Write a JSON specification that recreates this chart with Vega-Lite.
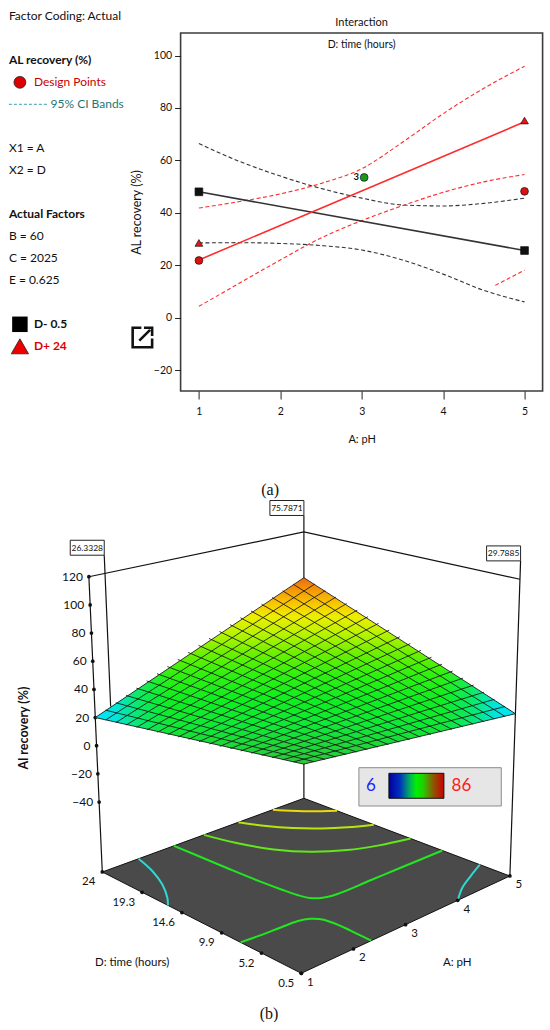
{
  "$schema": "https://vega.github.io/schema/vega-lite/v6.json",
  "background": "white",
  "padding": {"left": 5.6, "top": 9, "right": 0, "bottom": 0},
  "bounds": "flush",
  "spacing": 110,
  "config": {
    "font": "Lato, sans-serif",
    "view": {"stroke": null}
  },
  "datasets": {
    "key": [
      {"kind": "text", "sty": "plain", "line": 0, "col": 0, "label": "Factor Coding: Actual"},
      {"kind": "bold", "sty": "bold", "line": 2, "col": 0, "label": "AL recovery (%)"},
      {"kind": "text", "sty": "red", "line": 3, "col": 1, "label": "Design Points"},
      {"kind": "text", "sty": "teal", "line": 4, "col": 1.668, "label": "95% CI Bands"},
      {"kind": "text", "sty": "plain", "line": 6, "col": 0, "label": "X1 = A"},
      {"kind": "text", "sty": "plain", "line": 7, "col": 0, "label": "X2 = D"},
      {"kind": "bold", "sty": "bold", "line": 9, "col": 0, "label": "Actual Factors"},
      {"kind": "text", "sty": "plain", "line": 10, "col": 0, "label": "B = 60"},
      {"kind": "text", "sty": "plain", "line": 11, "col": 0, "label": "C = 2025"},
      {"kind": "text", "sty": "plain", "line": 12, "col": 0, "label": "E = 0.625"},
      {"kind": "bold", "sty": "bold", "line": 14, "col": 1, "label": "D- 0.5"},
      {"kind": "bold", "sty": "boldr", "line": 15, "col": 1, "label": "D+ 24"},
      {"kind": "sym", "ser": "design", "line": 3, "col": 0.44},
      {"kind": "sym", "ser": "D-", "line": 14, "col": 0.44},
      {"kind": "sym", "ser": "D+", "line": 15, "col": 0.44},
      {"kind": "dash", "line": 4, "col": 0},
      {"kind": "dash", "line": 4, "col": 1.588},
      {"kind": "icon", "line": 14.6, "col": 5.34}
    ],
    "ckey": [
      {"lo": 6, "hi": 86, "mid": 46}
    ],
    "fit": [
      {"curve": "Dm_fit", "grp": "D-", "kind": "fit", "A": 1, "rec": 48.0},
      {"curve": "Dm_fit", "grp": "D-", "kind": "fit", "A": 5, "rec": 25.6},
      {"curve": "Dp_fit", "grp": "D+", "kind": "fit", "A": 1, "rec": 22.0},
      {"curve": "Dp_fit", "grp": "D+", "kind": "fit", "A": 5, "rec": 74.7},
      {"curve": "Dm_hi", "grp": "D-", "kind": "ci", "A": 1, "rec": 66.4},
      {"curve": "Dm_hi", "grp": "D-", "kind": "ci", "A": 1.5, "rec": 59.6},
      {"curve": "Dm_hi", "grp": "D-", "kind": "ci", "A": 2, "rec": 54.0},
      {"curve": "Dm_hi", "grp": "D-", "kind": "ci", "A": 2.5, "rec": 49.3},
      {"curve": "Dm_hi", "grp": "D-", "kind": "ci", "A": 3, "rec": 45.6},
      {"curve": "Dm_hi", "grp": "D-", "kind": "ci", "A": 3.5, "rec": 43.0},
      {"curve": "Dm_hi", "grp": "D-", "kind": "ci", "A": 4, "rec": 42.6},
      {"curve": "Dm_hi", "grp": "D-", "kind": "ci", "A": 4.5, "rec": 43.6},
      {"curve": "Dm_hi", "grp": "D-", "kind": "ci", "A": 5, "rec": 45.6},
      {"curve": "Dm_lo", "grp": "D-", "kind": "ci", "A": 1, "rec": 28.5},
      {"curve": "Dm_lo", "grp": "D-", "kind": "ci", "A": 1.5, "rec": 28.6},
      {"curve": "Dm_lo", "grp": "D-", "kind": "ci", "A": 2, "rec": 28.3},
      {"curve": "Dm_lo", "grp": "D-", "kind": "ci", "A": 2.5, "rec": 27.5},
      {"curve": "Dm_lo", "grp": "D-", "kind": "ci", "A": 3, "rec": 25.8},
      {"curve": "Dm_lo", "grp": "D-", "kind": "ci", "A": 3.5, "rec": 22.0},
      {"curve": "Dm_lo", "grp": "D-", "kind": "ci", "A": 4, "rec": 16.6},
      {"curve": "Dm_lo", "grp": "D-", "kind": "ci", "A": 4.5, "rec": 10.4},
      {"curve": "Dm_lo", "grp": "D-", "kind": "ci", "A": 5, "rec": 6.0},
      {"curve": "Dp_hi", "grp": "D+", "kind": "ci", "A": 1, "rec": 41.8},
      {"curve": "Dp_hi", "grp": "D+", "kind": "ci", "A": 1.5, "rec": 44.3},
      {"curve": "Dp_hi", "grp": "D+", "kind": "ci", "A": 2, "rec": 47.2},
      {"curve": "Dp_hi", "grp": "D+", "kind": "ci", "A": 2.5, "rec": 51.2},
      {"curve": "Dp_hi", "grp": "D+", "kind": "ci", "A": 3, "rec": 56.8},
      {"curve": "Dp_hi", "grp": "D+", "kind": "ci", "A": 3.5, "rec": 66.9},
      {"curve": "Dp_hi", "grp": "D+", "kind": "ci", "A": 4, "rec": 77.8},
      {"curve": "Dp_hi", "grp": "D+", "kind": "ci", "A": 4.5, "rec": 87.5},
      {"curve": "Dp_hi", "grp": "D+", "kind": "ci", "A": 5, "rec": 95.9},
      {"curve": "Dp_lo", "grp": "D+", "kind": "ci", "A": 1, "rec": 4.3},
      {"curve": "Dp_lo", "grp": "D+", "kind": "ci", "A": 1.5, "rec": 13.2},
      {"curve": "Dp_lo", "grp": "D+", "kind": "ci", "A": 2, "rec": 22.0},
      {"curve": "Dp_lo", "grp": "D+", "kind": "ci", "A": 2.5, "rec": 30.4},
      {"curve": "Dp_lo", "grp": "D+", "kind": "ci", "A": 3, "rec": 37.0},
      {"curve": "Dp_lo", "grp": "D+", "kind": "ci", "A": 3.5, "rec": 42.7},
      {"curve": "Dp_lo", "grp": "D+", "kind": "ci", "A": 4, "rec": 47.8},
      {"curve": "Dp_lo", "grp": "D+", "kind": "ci", "A": 4.5, "rec": 51.8},
      {"curve": "Dp_lo", "grp": "D+", "kind": "ci", "A": 5, "rec": 54.6},
      {"curve": "Dp_x", "grp": "D+", "kind": "ci", "A": 4.64, "rec": 12.3},
      {"curve": "Dp_x", "grp": "D+", "kind": "ci", "A": 5, "rec": 18.1}
    ],
    "pts": [
      {"A": 1, "rec": 48.0, "ser": "D-"},
      {"A": 5, "rec": 25.6, "ser": "D-"},
      {"A": 1, "rec": 28.5, "ser": "D+"},
      {"A": 5, "rec": 75.2, "ser": "D+"},
      {"A": 1, "rec": 21.8, "ser": "design"},
      {"A": 5, "rec": 48.2, "ser": "design"},
      {"A": 3.03, "rec": 53.5, "ser": "center", "n": "3"}
    ],
    "scene": [
      {"kind": "floor", "o": 0, "A": 1, "D": 0.5, "z": -89.7},
      {"kind": "floor", "o": 1, "A": 1, "D": 24, "z": -89.7},
      {"kind": "floor", "o": 2, "A": 5, "D": 24, "z": -89.7},
      {"kind": "floor", "o": 3, "A": 5, "D": 0.5, "z": -89.7},
      {"kind": "floor", "o": 4, "A": 1, "D": 0.5, "z": -89.7},
      {"kind": "surf", "o": 0, "A": 1, "D": 0.5, "z": 45},
      {"kind": "surf", "o": 1, "A": 1, "D": 24, "z": 20},
      {"kind": "surf", "o": 2, "A": 5, "D": 24, "z": 84},
      {"kind": "surf", "o": 3, "A": 5, "D": 0.5, "z": 25},
      {"kind": "surf", "o": 4, "A": 1, "D": 0.5, "z": 45},
      {"kind": "frame", "g": "zax", "o": 0, "A": 1, "D": 24, "z": -89.7},
      {"kind": "frame", "g": "zax", "o": 1, "A": 1, "D": 24, "z": 120},
      {"kind": "frame", "g": "top", "o": 0, "A": 1, "D": 24, "z": 120},
      {"kind": "frame", "g": "top", "o": 1, "A": 5, "D": 24, "z": 120},
      {"kind": "frame", "g": "top", "o": 2, "A": 5, "D": 0.5, "z": 120},
      {"kind": "frame", "g": "vB", "o": 0, "A": 5, "D": 24, "z": -89.7},
      {"kind": "frame", "g": "vB", "o": 1, "A": 5, "D": 24, "z": 133},
      {"kind": "frame", "g": "vR", "o": 0, "A": 5, "D": 0.5, "z": -89.7},
      {"kind": "frame", "g": "vR", "o": 1, "A": 5, "D": 0.5, "z": 133},
      {"kind": "frame", "g": "vL", "o": 0, "A": 1.3, "D": 24, "z": 24.8},
      {"kind": "frame", "g": "vL", "o": 1, "A": 1.3, "D": 24, "z": 133},
      {"kind": "zt", "A": 1, "D": 24, "z": 120, "lab": "120"},
      {"kind": "zt", "A": 1, "D": 24, "z": 100, "lab": "100"},
      {"kind": "zt", "A": 1, "D": 24, "z": 80, "lab": "80"},
      {"kind": "zt", "A": 1, "D": 24, "z": 60, "lab": "60"},
      {"kind": "zt", "A": 1, "D": 24, "z": 40, "lab": "40"},
      {"kind": "zt", "A": 1, "D": 24, "z": 20, "lab": "20"},
      {"kind": "zt", "A": 1, "D": 24, "z": 0, "lab": "0"},
      {"kind": "zt", "A": 1, "D": 24, "z": -20, "lab": "−20"},
      {"kind": "zt", "A": 1, "D": 24, "z": -40, "lab": "−40"},
      {"kind": "dt", "A": 1, "D": 24, "z": -89.7, "lab": "24"},
      {"kind": "dt", "A": 1, "D": 19.3, "z": -89.7, "lab": "19.3"},
      {"kind": "dt", "A": 1, "D": 14.6, "z": -89.7, "lab": "14.6"},
      {"kind": "dt", "A": 1, "D": 9.9, "z": -89.7, "lab": "9.9"},
      {"kind": "dt", "A": 1, "D": 5.2, "z": -89.7, "lab": "5.2"},
      {"kind": "dt", "A": 1, "D": 0.5, "z": -89.7, "lab": "0.5"},
      {"kind": "at", "A": 1, "D": 0.5, "z": -89.7, "lab": "1"},
      {"kind": "at", "A": 2, "D": 0.5, "z": -89.7, "lab": "2"},
      {"kind": "at", "A": 3, "D": 0.5, "z": -89.7, "lab": "3"},
      {"kind": "at", "A": 4, "D": 0.5, "z": -89.7, "lab": "4"},
      {"kind": "at", "A": 5, "D": 0.5, "z": -89.7, "lab": "5"},
      {"kind": "ttl", "A": -0.59, "D": 10.83, "z": -89.7, "lab": "D: time (hours)"},
      {"kind": "ttl", "A": 2.68, "D": -7.45, "z": -89.7, "lab": "A: pH"},
      {"kind": "zttl", "A": -0.35, "D": 24, "z": 26.4, "lab": "Al recovery (%)"},
      {"kind": "box", "A": 5, "D": 24, "z": 133, "lab": "75.7871"},
      {"kind": "box", "A": 1.3, "D": 24, "z": 133, "lab": "26.3328"},
      {"kind": "box", "A": 5, "D": 0.5, "z": 133, "lab": "29.7885"},
      {"kind": "cont", "g": "c75", "lev": "75", "o": 0, "A": 4.384, "D": 24, "z": -89.7},
      {"kind": "cont", "g": "c75", "lev": "75", "o": 1, "A": 4.48, "D": 23.27, "z": -89.7},
      {"kind": "cont", "g": "c75", "lev": "75", "o": 2, "A": 4.6, "D": 22.45, "z": -89.7},
      {"kind": "cont", "g": "c75", "lev": "75", "o": 3, "A": 4.72, "D": 21.7, "z": -89.7},
      {"kind": "cont", "g": "c75", "lev": "75", "o": 4, "A": 4.84, "D": 21.04, "z": -89.7},
      {"kind": "cont", "g": "c75", "lev": "75", "o": 5, "A": 5, "D": 20.22, "z": -89.7},
      {"kind": "cont", "g": "c65", "lev": "65", "o": 0, "A": 3.7, "D": 24, "z": -89.7},
      {"kind": "cont", "g": "c65", "lev": "65", "o": 1, "A": 3.88, "D": 22.12, "z": -89.7},
      {"kind": "cont", "g": "c65", "lev": "65", "o": 2, "A": 4.12, "D": 20.17, "z": -89.7},
      {"kind": "cont", "g": "c65", "lev": "65", "o": 3, "A": 4.4, "D": 18.48, "z": -89.7},
      {"kind": "cont", "g": "c65", "lev": "65", "o": 4, "A": 4.68, "D": 17.19, "z": -89.7},
      {"kind": "cont", "g": "c65", "lev": "65", "o": 5, "A": 5, "D": 16.03, "z": -89.7},
      {"kind": "cont", "g": "c55", "lev": "55", "o": 0, "A": 3.016, "D": 24, "z": -89.7},
      {"kind": "cont", "g": "c55", "lev": "55", "o": 1, "A": 3.16, "D": 21.2, "z": -89.7},
      {"kind": "cont", "g": "c55", "lev": "55", "o": 2, "A": 3.4, "D": 18.17, "z": -89.7},
      {"kind": "cont", "g": "c55", "lev": "55", "o": 3, "A": 3.72, "D": 15.75, "z": -89.7},
      {"kind": "cont", "g": "c55", "lev": "55", "o": 4, "A": 4.12, "D": 13.92, "z": -89.7},
      {"kind": "cont", "g": "c55", "lev": "55", "o": 5, "A": 4.52, "D": 12.77, "z": -89.7},
      {"kind": "cont", "g": "c55", "lev": "55", "o": 6, "A": 5, "D": 11.83, "z": -89.7},
      {"kind": "cont", "g": "c45u", "lev": "45", "o": 0, "A": 2.42, "D": 24, "z": -89.7},
      {"kind": "cont", "g": "c45u", "lev": "45", "o": 1, "A": 2.448, "D": 21.04, "z": -89.7},
      {"kind": "cont", "g": "c45u", "lev": "45", "o": 2, "A": 2.476, "D": 17.73, "z": -89.7},
      {"kind": "cont", "g": "c45u", "lev": "45", "o": 3, "A": 2.512, "D": 14.46, "z": -89.7},
      {"kind": "cont", "g": "c45u", "lev": "45", "o": 4, "A": 2.552, "D": 12.25, "z": -89.7},
      {"kind": "cont", "g": "c45u", "lev": "45", "o": 5, "A": 2.592, "D": 10.61, "z": -89.7},
      {"kind": "cont", "g": "c45u", "lev": "45", "o": 6, "A": 2.648, "D": 9.55, "z": -89.7},
      {"kind": "cont", "g": "c45u", "lev": "45", "o": 7, "A": 2.76, "D": 8.89, "z": -89.7},
      {"kind": "cont", "g": "c45u", "lev": "45", "o": 8, "A": 3.0, "D": 8.49, "z": -89.7},
      {"kind": "cont", "g": "c45u", "lev": "45", "o": 9, "A": 3.64, "D": 8.4, "z": -89.7},
      {"kind": "cont", "g": "c45u", "lev": "45", "o": 10, "A": 4.2, "D": 8.33, "z": -89.7},
      {"kind": "cont", "g": "c45u", "lev": "45", "o": 11, "A": 5, "D": 8.21, "z": -89.7},
      {"kind": "cont", "g": "c45l", "lev": "45", "o": 0, "A": 1, "D": 7.67, "z": -89.7},
      {"kind": "cont", "g": "c45l", "lev": "45", "o": 1, "A": 1.348, "D": 7.48, "z": -89.7},
      {"kind": "cont", "g": "c45l", "lev": "45", "o": 2, "A": 1.712, "D": 7.34, "z": -89.7},
      {"kind": "cont", "g": "c45l", "lev": "45", "o": 3, "A": 2.02, "D": 7.2, "z": -89.7},
      {"kind": "cont", "g": "c45l", "lev": "45", "o": 4, "A": 2.2, "D": 6.8, "z": -89.7},
      {"kind": "cont", "g": "c45l", "lev": "45", "o": 5, "A": 2.312, "D": 6.0, "z": -89.7},
      {"kind": "cont", "g": "c45l", "lev": "45", "o": 6, "A": 2.352, "D": 4.14, "z": -89.7},
      {"kind": "cont", "g": "c45l", "lev": "45", "o": 7, "A": 2.348, "D": 2.38, "z": -89.7},
      {"kind": "cont", "g": "c45l", "lev": "45", "o": 8, "A": 2.34, "D": 0.5, "z": -89.7},
      {"kind": "cont", "g": "c35l", "lev": "35", "o": 0, "A": 1.72, "D": 24, "z": -89.7},
      {"kind": "cont", "g": "c35l", "lev": "35", "o": 1, "A": 1.592, "D": 21.63, "z": -89.7},
      {"kind": "cont", "g": "c35l", "lev": "35", "o": 2, "A": 1.4, "D": 19.32, "z": -89.7},
      {"kind": "cont", "g": "c35l", "lev": "35", "o": 3, "A": 1.16, "D": 17.28, "z": -89.7},
      {"kind": "cont", "g": "c35l", "lev": "35", "o": 4, "A": 1, "D": 16.25, "z": -89.7},
      {"kind": "cont", "g": "c35r", "lev": "35", "o": 0, "A": 5, "D": 3.93, "z": -89.7},
      {"kind": "cont", "g": "c35r", "lev": "35", "o": 1, "A": 4.656, "D": 2.94, "z": -89.7},
      {"kind": "cont", "g": "c35r", "lev": "35", "o": 2, "A": 4.32, "D": 1.89, "z": -89.7},
      {"kind": "cont", "g": "c35r", "lev": "35", "o": 3, "A": 4, "D": 0.5, "z": -89.7},
      {"kind": "grid", "g": "d0", "A": 1, "D": 0.5, "z": 45}, {"kind": "grid", "g": "d0", "A": 5, "D": 0.5, "z": 25},
      {"kind": "grid", "g": "d1", "A": 1, "D": 1.675, "z": 43.75}, {"kind": "grid", "g": "d1", "A": 5, "D": 1.675, "z": 27.95},
      {"kind": "grid", "g": "d2", "A": 1, "D": 2.85, "z": 42.5}, {"kind": "grid", "g": "d2", "A": 5, "D": 2.85, "z": 30.9},
      {"kind": "grid", "g": "d3", "A": 1, "D": 4.025, "z": 41.25}, {"kind": "grid", "g": "d3", "A": 5, "D": 4.025, "z": 33.85},
      {"kind": "grid", "g": "d4", "A": 1, "D": 5.2, "z": 40}, {"kind": "grid", "g": "d4", "A": 5, "D": 5.2, "z": 36.8},
      {"kind": "grid", "g": "d5", "A": 1, "D": 6.375, "z": 38.75}, {"kind": "grid", "g": "d5", "A": 5, "D": 6.375, "z": 39.75},
      {"kind": "grid", "g": "d6", "A": 1, "D": 7.55, "z": 37.5}, {"kind": "grid", "g": "d6", "A": 5, "D": 7.55, "z": 42.7},
      {"kind": "grid", "g": "d7", "A": 1, "D": 8.725, "z": 36.25}, {"kind": "grid", "g": "d7", "A": 5, "D": 8.725, "z": 45.65},
      {"kind": "grid", "g": "d8", "A": 1, "D": 9.9, "z": 35}, {"kind": "grid", "g": "d8", "A": 5, "D": 9.9, "z": 48.6},
      {"kind": "grid", "g": "d9", "A": 1, "D": 11.075, "z": 33.75}, {"kind": "grid", "g": "d9", "A": 5, "D": 11.075, "z": 51.55},
      {"kind": "grid", "g": "d10", "A": 1, "D": 12.25, "z": 32.5}, {"kind": "grid", "g": "d10", "A": 5, "D": 12.25, "z": 54.5},
      {"kind": "grid", "g": "d11", "A": 1, "D": 13.425, "z": 31.25}, {"kind": "grid", "g": "d11", "A": 5, "D": 13.425, "z": 57.45},
      {"kind": "grid", "g": "d12", "A": 1, "D": 14.6, "z": 30}, {"kind": "grid", "g": "d12", "A": 5, "D": 14.6, "z": 60.4},
      {"kind": "grid", "g": "d13", "A": 1, "D": 15.775, "z": 28.75}, {"kind": "grid", "g": "d13", "A": 5, "D": 15.775, "z": 63.35},
      {"kind": "grid", "g": "d14", "A": 1, "D": 16.95, "z": 27.5}, {"kind": "grid", "g": "d14", "A": 5, "D": 16.95, "z": 66.3},
      {"kind": "grid", "g": "d15", "A": 1, "D": 18.125, "z": 26.25}, {"kind": "grid", "g": "d15", "A": 5, "D": 18.125, "z": 69.25},
      {"kind": "grid", "g": "d16", "A": 1, "D": 19.3, "z": 25}, {"kind": "grid", "g": "d16", "A": 5, "D": 19.3, "z": 72.2},
      {"kind": "grid", "g": "d17", "A": 1, "D": 20.475, "z": 23.75}, {"kind": "grid", "g": "d17", "A": 5, "D": 20.475, "z": 75.15},
      {"kind": "grid", "g": "d18", "A": 1, "D": 21.65, "z": 22.5}, {"kind": "grid", "g": "d18", "A": 5, "D": 21.65, "z": 78.1},
      {"kind": "grid", "g": "d19", "A": 1, "D": 22.825, "z": 21.25}, {"kind": "grid", "g": "d19", "A": 5, "D": 22.825, "z": 81.05},
      {"kind": "grid", "g": "d20", "A": 1, "D": 24, "z": 20}, {"kind": "grid", "g": "d20", "A": 5, "D": 24, "z": 84},
      {"kind": "grid", "g": "a0", "A": 1, "D": 0.5, "z": 45}, {"kind": "grid", "g": "a0", "A": 1, "D": 24, "z": 20},
      {"kind": "grid", "g": "a1", "A": 1.2, "D": 0.5, "z": 44}, {"kind": "grid", "g": "a1", "A": 1.2, "D": 24, "z": 23.2},
      {"kind": "grid", "g": "a2", "A": 1.4, "D": 0.5, "z": 43}, {"kind": "grid", "g": "a2", "A": 1.4, "D": 24, "z": 26.4},
      {"kind": "grid", "g": "a3", "A": 1.6, "D": 0.5, "z": 42}, {"kind": "grid", "g": "a3", "A": 1.6, "D": 24, "z": 29.6},
      {"kind": "grid", "g": "a4", "A": 1.8, "D": 0.5, "z": 41}, {"kind": "grid", "g": "a4", "A": 1.8, "D": 24, "z": 32.8},
      {"kind": "grid", "g": "a5", "A": 2.0, "D": 0.5, "z": 40}, {"kind": "grid", "g": "a5", "A": 2.0, "D": 24, "z": 36},
      {"kind": "grid", "g": "a6", "A": 2.2, "D": 0.5, "z": 39}, {"kind": "grid", "g": "a6", "A": 2.2, "D": 24, "z": 39.2},
      {"kind": "grid", "g": "a7", "A": 2.4, "D": 0.5, "z": 38}, {"kind": "grid", "g": "a7", "A": 2.4, "D": 24, "z": 42.4},
      {"kind": "grid", "g": "a8", "A": 2.6, "D": 0.5, "z": 37}, {"kind": "grid", "g": "a8", "A": 2.6, "D": 24, "z": 45.6},
      {"kind": "grid", "g": "a9", "A": 2.8, "D": 0.5, "z": 36}, {"kind": "grid", "g": "a9", "A": 2.8, "D": 24, "z": 48.8},
      {"kind": "grid", "g": "a10", "A": 3.0, "D": 0.5, "z": 35}, {"kind": "grid", "g": "a10", "A": 3.0, "D": 24, "z": 52},
      {"kind": "grid", "g": "a11", "A": 3.2, "D": 0.5, "z": 34}, {"kind": "grid", "g": "a11", "A": 3.2, "D": 24, "z": 55.2},
      {"kind": "grid", "g": "a12", "A": 3.4, "D": 0.5, "z": 33}, {"kind": "grid", "g": "a12", "A": 3.4, "D": 24, "z": 58.4},
      {"kind": "grid", "g": "a13", "A": 3.6, "D": 0.5, "z": 32}, {"kind": "grid", "g": "a13", "A": 3.6, "D": 24, "z": 61.6},
      {"kind": "grid", "g": "a14", "A": 3.8, "D": 0.5, "z": 31}, {"kind": "grid", "g": "a14", "A": 3.8, "D": 24, "z": 64.8},
      {"kind": "grid", "g": "a15", "A": 4.0, "D": 0.5, "z": 30}, {"kind": "grid", "g": "a15", "A": 4.0, "D": 24, "z": 68},
      {"kind": "grid", "g": "a16", "A": 4.2, "D": 0.5, "z": 29}, {"kind": "grid", "g": "a16", "A": 4.2, "D": 24, "z": 71.2},
      {"kind": "grid", "g": "a17", "A": 4.4, "D": 0.5, "z": 28}, {"kind": "grid", "g": "a17", "A": 4.4, "D": 24, "z": 74.4},
      {"kind": "grid", "g": "a18", "A": 4.6, "D": 0.5, "z": 27}, {"kind": "grid", "g": "a18", "A": 4.6, "D": 24, "z": 77.6},
      {"kind": "grid", "g": "a19", "A": 4.8, "D": 0.5, "z": 26}, {"kind": "grid", "g": "a19", "A": 4.8, "D": 24, "z": 80.8},
      {"kind": "grid", "g": "a20", "A": 5.0, "D": 0.5, "z": 25}, {"kind": "grid", "g": "a20", "A": 5.0, "D": 24, "z": 84}
    ]
  },
  "vconcat": [
    {
      "width": 362,
      "height": 358,
      "view": {"stroke": "#3c3c3c", "strokeWidth": 1.6},
      "title": {"text": "Interaction", "subtitle": "D: time (hours)", "frame": "group", "anchor": "middle", "offset": -40.2, "fontSize": 11, "fontWeight": "normal", "color": "#111", "subtitleFontSize": 10.5, "subtitleColor": "#111", "subtitlePadding": 12.5},
      "resolve": {"scale": {"x": "independent", "y": "independent", "color": "independent"}},
      "layer": [
        {
          "encoding": {
            "x": {
              "field": "A", "type": "quantitative",
              "scale": {"domain": [0.775, 5.222], "nice": false, "zero": false},
              "axis": {"values": [1, 2, 3, 4, 5], "title": "A: pH", "domain": false, "grid": false, "tickSize": 8, "tickColor": "#222", "labelPadding": 7, "labelFontSize": 10.5, "labelColor": "#111", "labelFlush": false, "titleFontSize": 11, "titleFontWeight": "normal", "titleColor": "#111", "titlePadding": 17}
            },
            "y": {
              "field": "rec", "type": "quantitative",
              "scale": {"domain": [-28, 108.6], "nice": false, "zero": false},
              "axis": {"values": [-20, 0, 20, 40, 60, 80, 100], "title": "AL recovery (%)", "domain": false, "grid": false, "tickSize": 6, "tickColor": "#222", "labelPadding": 3, "labelFontSize": 10.5, "labelColor": "#111", "labelFlush": false, "titleFontSize": 12.5, "titleFontWeight": "normal", "titleColor": "#111", "titlePadding": 10}
            }
          },
          "layer": [
            {
              "data": {"name": "fit"},
              "transform": [{"filter": "datum.kind === 'ci'"}],
              "mark": {"type": "line", "interpolate": "monotone", "strokeWidth": 1.1, "strokeDash": [4, 2.5]},
              "encoding": {
                "detail": {"field": "curve", "type": "nominal"},
                "color": {"field": "grp", "type": "nominal", "scale": {"domain": ["D-", "D+"], "range": ["#333333", "#ff2a2a"]}, "legend": null}
              }
            },
            {
              "data": {"name": "fit"},
              "transform": [{"filter": "datum.kind === 'fit'"}],
              "mark": {"type": "line", "strokeWidth": 1.6},
              "encoding": {
                "detail": {"field": "curve", "type": "nominal"},
                "color": {"field": "grp", "type": "nominal", "scale": {"domain": ["D-", "D+"], "range": ["#1e1e1e", "#ff2424"]}, "legend": null}
              }
            },
            {
              "data": {"name": "pts"},
              "mark": {"type": "point", "filled": true, "size": 60, "opacity": 1, "stroke": "#111", "strokeWidth": 0.7},
              "encoding": {
                "shape": {"field": "ser", "type": "nominal", "scale": {"domain": ["D-", "D+", "design", "center"], "range": ["square", "triangle-up", "circle", "circle"]}, "legend": null},
                "fill": {"field": "ser", "type": "nominal", "scale": {"domain": ["D-", "D+", "design", "center"], "range": ["#111111", "#ee1111", "#dd1111", "#1a9a1a"]}, "legend": null}
              }
            },
            {
              "data": {"name": "pts"},
              "transform": [{"filter": "isValid(datum.n)"}],
              "mark": {"type": "text", "dx": -8, "fontSize": 9.5, "fontWeight": "bold", "align": "center", "baseline": "middle", "color": "#111"},
              "encoding": {"text": {"field": "n", "type": "nominal"}}
            }
          ]
        },
        {
          "data": {"name": "key"},
          "encoding": {
            "x": {"field": "col", "type": "quantitative", "scale": {"domain": [6.868, 21.348], "nice": false, "zero": false}, "axis": null},
            "y": {"field": "line", "type": "quantitative", "scale": {"domain": [0.759, 17.032], "nice": false, "zero": false, "reverse": true}, "axis": null}
          },
          "layer": [
            {
              "transform": [{"filter": "datum.kind === 'dash'"}],
              "mark": {"type": "line", "color": "#3d9fb0", "strokeWidth": 1, "strokeDash": [3, 2]}
            },
            {
              "transform": [{"filter": "datum.kind === 'text'"}],
              "mark": {"type": "text", "align": "left", "baseline": "middle", "fontSize": 12},
              "encoding": {
                "text": {"field": "label", "type": "nominal"},
                "color": {"field": "sty", "type": "nominal", "scale": {"domain": ["plain", "red", "teal", "bold", "boldr"], "range": ["#111111", "#c80000", "#1d7676", "#111111", "#dd0000"]}, "legend": null}
              }
            },
            {
              "transform": [{"filter": "datum.kind === 'bold'"}],
              "mark": {"type": "text", "align": "left", "baseline": "middle", "fontSize": 12, "fontWeight": "bold"},
              "encoding": {
                "text": {"field": "label", "type": "nominal"},
                "color": {"field": "sty", "type": "nominal", "scale": {"domain": ["plain", "red", "teal", "bold", "boldr"], "range": ["#111111", "#c80000", "#1d7676", "#111111", "#dd0000"]}, "legend": null}
              }
            },
            {
              "transform": [{"filter": "datum.kind === 'sym' && datum.ser === 'design'"}],
              "mark": {"type": "point", "shape": "circle", "size": 140, "filled": true, "fill": "#dd0000", "stroke": "#222", "strokeWidth": 0.8, "opacity": 1}
            },
            {
              "transform": [{"filter": "datum.kind === 'sym' && datum.ser === 'D-'"}],
              "mark": {"type": "point", "shape": "square", "size": 240, "filled": true, "fill": "#000000", "opacity": 1}
            },
            {
              "transform": [{"filter": "datum.kind === 'sym' && datum.ser === 'D+'"}],
              "mark": {"type": "point", "shape": "triangle-up", "size": 300, "filled": true, "fill": "#ee0000", "stroke": "#222", "strokeWidth": 0.8, "opacity": 1}
            },
            {
              "transform": [{"filter": "datum.kind === 'icon'"}],
              "mark": {"type": "point", "shape": "M-0.1,-0.95H-0.95V0.95H0.95V0.1M-0.3,0.3L0.75,-0.75M0.15,-0.95H0.95V-0.15", "size": 420, "filled": false, "color": "#111", "strokeWidth": 2.6, "opacity": 1}
            }
          ]
        }
      ]
    },
    {
      "width": 362,
      "height": 500,
      "title": {"text": "(a)", "orient": "top", "frame": "group", "anchor": "middle", "dx": -91.5, "offset": 0.4, "font": "Liberation Serif, DejaVu Serif, serif", "fontSize": 16, "fontWeight": "normal", "color": "#111"},
      "resolve": {"scale": {"x": "independent", "y": "independent"}},
      "layer": [
        {
          "data": {"name": "scene"},
          "transform": [
            {"calculate": "(datum.A - 1) / 4", "as": "a"},
            {"calculate": "(datum.D - 0.5) / 23.5", "as": "d"},
            {"calculate": "datum.z + 89.7", "as": "h"},
            {"calculate": "208.6 * datum.a - 199 * datum.d - 7 * datum.a * datum.d + datum.h * (0.018 + 0.03 * datum.a - 0.082 * datum.d + 0.034 * datum.a * datum.d)", "as": "u"},
            {"calculate": "97.3 * datum.a + 101.3 * datum.d - 23.6 * datum.a * datum.d + datum.h * (1.553 - 0.138 * datum.a - 0.145 * datum.d)", "as": "v"}
          ],
          "encoding": {
            "x": {"field": "u", "type": "quantitative", "scale": {"domain": [-120.7, 241.3], "nice": false, "zero": false}, "axis": {"orient": "bottom", "labels": false, "ticks": false, "domain": false, "grid": false, "title": "(b)", "titleFont": "Liberation Serif, DejaVu Serif, serif", "titleFontSize": 16, "titleFontWeight": "normal", "titleColor": "#111", "titlePadding": 5, "titleX": 88}},
            "y": {"field": "v", "type": "quantitative", "scale": {"domain": [-27.7, 472.3], "nice": false, "zero": false}, "axis": null}
          },
          "layer": [
            {
              "transform": [{"filter": "datum.kind === 'floor'"}],
              "mark": {"type": "line", "filled": true, "color": "#4a4a4a"},
              "encoding": {"order": {"field": "o", "type": "quantitative"}}
            },
            {
              "transform": [{"filter": "datum.kind === 'floor'"}],
              "mark": {"type": "line", "color": "#111", "strokeWidth": 1},
              "encoding": {"order": {"field": "o", "type": "quantitative"}}
            },
            {
              "transform": [{"filter": "datum.kind === 'cont'"}],
              "mark": {"type": "line", "strokeWidth": 2, "interpolate": "catmull-rom"},
              "encoding": {
                "detail": {"field": "g", "type": "nominal"},
                "order": {"field": "o", "type": "quantitative"},
                "stroke": {"field": "lev", "type": "nominal", "scale": {"domain": ["35", "45", "55", "65", "75"], "range": ["#2fd8d0", "#22e622", "#62e81a", "#b6e60c", "#e8da0c"]}, "legend": null}
              }
            },
            {
              "transform": [{"filter": "datum.kind === 'dt' || datum.kind === 'at' || datum.kind === 'zt'"}],
              "mark": {"type": "point", "filled": true, "size": 14, "color": "#111", "opacity": 1}
            },
            {
              "transform": [{"filter": "datum.kind === 'dt'"}],
              "mark": {"type": "text", "align": "right", "baseline": "middle", "dx": -7, "dy": 10.5, "fontSize": 11.5, "color": "#111"},
              "encoding": {"text": {"field": "lab", "type": "nominal"}}
            },
            {
              "transform": [{"filter": "datum.kind === 'at'"}],
              "mark": {"type": "text", "align": "center", "baseline": "middle", "dx": 9, "dy": 9.5, "fontSize": 11.5, "color": "#111"},
              "encoding": {"text": {"field": "lab", "type": "nominal"}}
            },
            {
              "transform": [{"filter": "datum.kind === 'zt'"}],
              "mark": {"type": "text", "align": "right", "baseline": "middle", "dx": -6, "fontSize": 12, "color": "#111"},
              "encoding": {"text": {"field": "lab", "type": "nominal"}}
            },
            {
              "transform": [{"filter": "datum.kind === 'ttl'"}],
              "mark": {"type": "text", "align": "center", "baseline": "middle", "fontSize": 11.5, "color": "#111"},
              "encoding": {"text": {"field": "lab", "type": "nominal"}}
            },
            {
              "transform": [{"filter": "datum.kind === 'zttl'"}],
              "mark": {"type": "text", "align": "center", "baseline": "middle", "angle": 270, "fontSize": 12.5, "fontWeight": "bold", "color": "#111"},
              "encoding": {"text": {"field": "lab", "type": "nominal"}}
            },
            {
              "transform": [{"filter": "datum.kind === 'frame'"}],
              "mark": {"type": "line", "color": "#111", "strokeWidth": 1.2},
              "encoding": {
                "detail": {"field": "g", "type": "nominal"},
                "order": {"field": "o", "type": "quantitative"}
              }
            },
            {
              "transform": [{"filter": "datum.kind === 'surf'"}],
              "mark": {
                "type": "line", "filled": true,
                "color": {
                  "gradient": "linear", "x1": 0, "y1": 0, "x2": 0, "y2": 1,
                  "stops": [
                    {"offset": 0, "color": "#ee6a10"},
                    {"offset": 0.07, "color": "#f59a08"},
                    {"offset": 0.14, "color": "#f8c800"},
                    {"offset": 0.21, "color": "#eeee00"},
                    {"offset": 0.3, "color": "#b8f400"},
                    {"offset": 0.4, "color": "#70f000"},
                    {"offset": 0.52, "color": "#30f010"},
                    {"offset": 0.65, "color": "#10ee20"},
                    {"offset": 0.8, "color": "#10e838"},
                    {"offset": 1, "color": "#2cc83a"}
                  ]
                }
              },
              "encoding": {"order": {"field": "o", "type": "quantitative"}}
            },
            {
              "transform": [{"filter": "datum.kind === 'surf'"}],
              "mark": {
                "type": "line", "filled": true,
                "color": {
                  "gradient": "linear", "x1": 0, "y1": 0, "x2": 1, "y2": 0,
                  "stops": [
                    {"offset": 0, "color": "rgba(0,228,255,1)"},
                    {"offset": 0.05, "color": "rgba(0,228,250,0.85)"},
                    {"offset": 0.1, "color": "rgba(0,230,200,0.45)"},
                    {"offset": 0.18, "color": "rgba(0,230,150,0)"},
                    {"offset": 0.82, "color": "rgba(0,230,150,0)"},
                    {"offset": 0.9, "color": "rgba(0,230,200,0.45)"},
                    {"offset": 0.95, "color": "rgba(0,228,250,0.85)"},
                    {"offset": 1, "color": "rgba(0,228,255,1)"}
                  ]
                }
              },
              "encoding": {"order": {"field": "o", "type": "quantitative"}}
            },
            {
              "transform": [{"filter": "datum.kind === 'grid'"}],
              "mark": {"type": "line", "color": "#141414", "strokeWidth": 0.85},
              "encoding": {"detail": {"field": "g", "type": "nominal"}}
            },
            {
              "transform": [{"filter": "datum.kind === 'box'"}],
              "mark": {"type": "point", "shape": "M-2,-0.88H0V0H-2Z", "size": 1156, "filled": true, "fill": "white", "stroke": "#222", "strokeWidth": 1, "opacity": 1}
            },
            {
              "transform": [{"filter": "datum.kind === 'box'"}],
              "mark": {"type": "text", "align": "center", "baseline": "middle", "dx": -17, "dy": -7.5, "fontSize": 8.5, "color": "#111"},
              "encoding": {"text": {"field": "lab", "type": "nominal"}}
            }
          ]
        },
        {
          "data": {"name": "ckey"},
          "layer": [
            {
              "mark": {"type": "point", "shape": "M-1.15,-0.362H1.698V0.404H-1.15Z", "size": 10000, "filled": true, "fill": "#e6e6e6", "stroke": "#8c8c8c", "strokeWidth": 1, "opacity": 1},
              "encoding": {
                "x": {"field": "mid", "type": "quantitative", "scale": {"domain": [-296.98, 229.57], "nice": false, "zero": false}, "axis": null},
                "y": {"datum": 0, "type": "quantitative", "scale": {"domain": [-17.216, 22.784], "nice": false, "zero": false}, "axis": null}
              }
            },
            {
              "mark": {
                "type": "rect", "stroke": "#111", "strokeWidth": 1,
                "color": {
                  "gradient": "linear", "x1": 0, "y1": 0, "x2": 1, "y2": 0,
                  "stops": [
                    {"offset": 0, "color": "#00009a"},
                    {"offset": 0.2, "color": "#0030c0"},
                    {"offset": 0.38, "color": "#00b060"},
                    {"offset": 0.5, "color": "#00f000"},
                    {"offset": 0.62, "color": "#20d000"},
                    {"offset": 0.8, "color": "#8a5a00"},
                    {"offset": 1, "color": "#c80000"}
                  ]
                }
              },
              "encoding": {
                "x": {"field": "lo", "type": "quantitative", "scale": {"domain": [-296.98, 229.57], "nice": false, "zero": false}, "axis": null},
                "x2": {"field": "hi"},
                "y": {"datum": 1, "type": "quantitative", "scale": {"domain": [-17.216, 22.784], "nice": false, "zero": false}, "axis": null},
                "y2": {"datum": -1}
              }
            },
            {
              "mark": {"type": "text", "align": "center", "baseline": "middle", "dx": -18, "fontSize": 17, "color": "#1f1fff"},
              "encoding": {
                "x": {"field": "lo", "type": "quantitative", "scale": {"domain": [-296.98, 229.57], "nice": false, "zero": false}, "axis": null},
                "y": {"datum": 0, "type": "quantitative", "scale": {"domain": [-17.216, 22.784], "nice": false, "zero": false}, "axis": null},
                "text": {"field": "lo", "type": "quantitative"}
              }
            },
            {
              "mark": {"type": "text", "align": "left", "baseline": "middle", "dx": 7.7, "fontSize": 17, "color": "#ff1a1a"},
              "encoding": {
                "x": {"field": "hi", "type": "quantitative", "scale": {"domain": [-296.98, 229.57], "nice": false, "zero": false}, "axis": null},
                "y": {"datum": 0, "type": "quantitative", "scale": {"domain": [-17.216, 22.784], "nice": false, "zero": false}, "axis": null},
                "text": {"field": "hi", "type": "quantitative"}
              }
            }
          ]
        }
      ]
    }
  ]
}
